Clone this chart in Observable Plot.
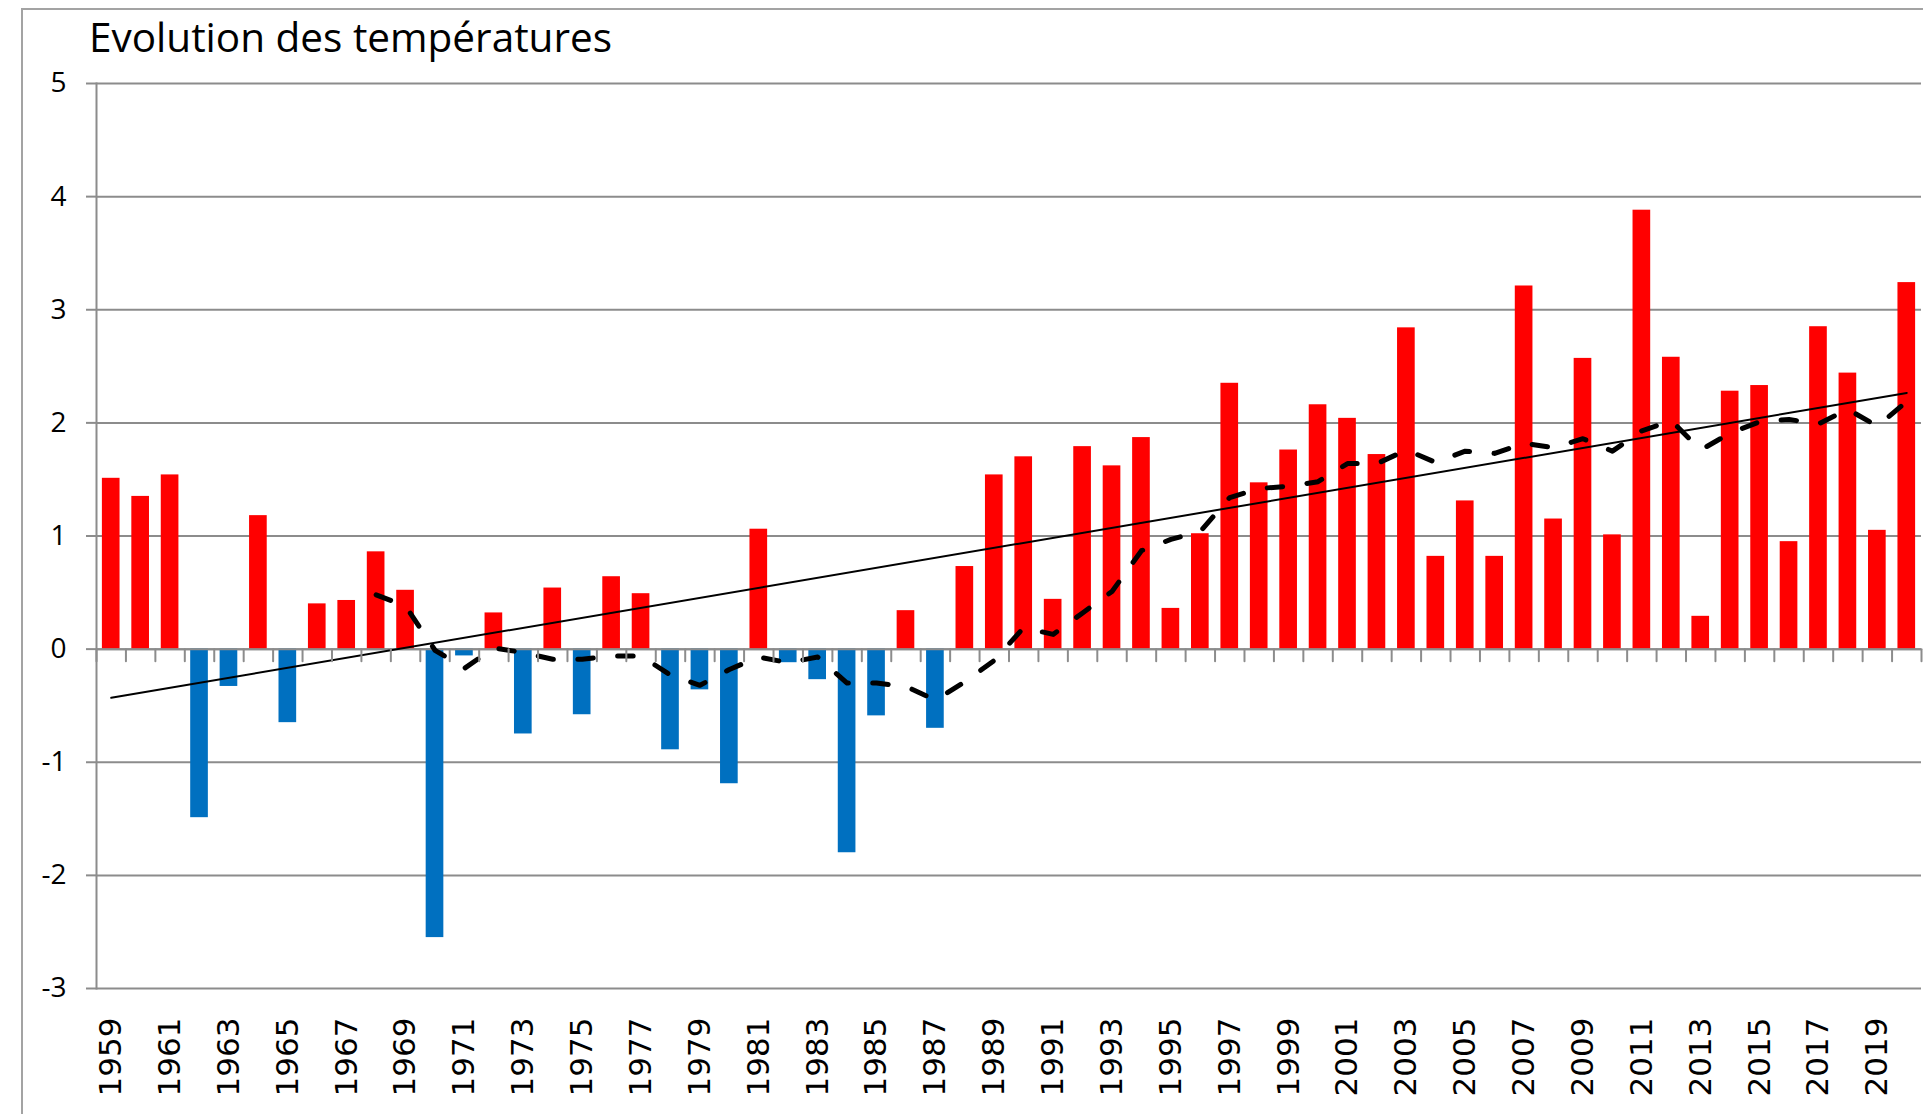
<!DOCTYPE html>
<html>
<head>
<meta charset="utf-8">
<script src="https://cdn.jsdelivr.net/npm/d3@7"></script>
<script src="https://cdn.jsdelivr.net/npm/@observablehq/plot@0.6"></script>
<style>
  html, body { margin: 0; padding: 0; background: #ffffff; }
  body { width: 1923px; height: 1114px; overflow: hidden; position: relative; }
  #frame { position: absolute; left: 21px; top: 8px; width: 3000px; height: 3000px;
           border-left: 2px solid #a3a3a3; border-top: 2px solid #a3a3a3; box-sizing: border-box; pointer-events: none; }
  #title { position: relative; height: 62px; box-sizing: border-box; padding-top: 17px; padding-left: 89px;
           font-family: "Open Sans", sans-serif; font-size: 40.5px; line-height: 1; color: #000; white-space: nowrap; }
  #chart svg { display: block; }
</style>
</head>
<body>
<div id="frame"></div>
<div id="title">Evolution des températures</div>
<div id="chart"></div>
<script>
// ---- data ----
const years = [1959,1960,1961,1962,1963,1964,1965,1966,1967,1968,1969,1970,1971,1972,1973,1974,1975,1976,1977,1978,
  1979,1980,1981,1982,1983,1984,1985,1986,1987,1988,1989,1990,1991,1992,1993,1994,1995,1996,1997,1998,
  1999,2000,2001,2002,2003,2004,2005,2006,2007,2008,2009,2010,2011,2012,2013,2014,2015,2016,2017,2018,2019,2020];
const anomalies = [1.51,1.35,1.54,-1.49,-0.33,1.18,-0.65,0.40,0.43,0.86,0.52,-2.55,-0.06,0.32,-0.75,0.54,-0.58,0.64,0.49,-0.89,
  -0.36,-1.19,1.06,-0.12,-0.27,-1.80,-0.59,0.34,-0.70,0.73,1.54,1.70,0.44,1.79,1.62,1.87,0.36,1.02,2.35,1.47,
  1.76,2.16,2.04,1.72,2.84,0.82,1.31,0.82,3.21,1.15,2.57,1.01,3.88,2.58,0.29,2.28,2.33,0.95,2.85,2.44,1.05,3.24];
// dashed line (10-year mean)
const maYears = [1968,1969,1970,1971,1972,1973,1974,1975,1976,1977,1978,1979,1980,1981,1982,1983,1984,1985,1986,1987,
  1988,1989,1990,1991,1992,1993,1994,1995,1996,1997,1998,1999,2000,2001,2002,2003,2004,2005,2006,2007,
  2008,2009,2010,2011,2012,2013,2014,2015,2016,2017,2018,2019,2020];
const maValues = [0.48,0.38,-0.01,-0.17,0.01,-0.03,-0.09,-0.09,-0.06,-0.06,-0.23,-0.32,-0.18,-0.07,-0.12,-0.07,-0.30,-0.30,-0.33,-0.45,
  -0.29,-0.10,0.19,0.13,0.32,0.51,0.87,0.97,1.04,1.34,1.42,1.44,1.48,1.64,1.64,1.76,1.65,1.75,1.73,1.82,
  1.78,1.86,1.75,1.93,2.02,1.76,1.91,2.01,2.03,1.99,2.12,1.97,2.19];
// straight trend line end points
const trendYears = [1959, 2020];
const trendValues = [-0.43, 2.265];
const yTicks = [-3,-2,-1,0,1,2,3,4,5];
const labelYears = [1959,1961,1963,1965,1967,1969,1971,1973,1975,1977,1979,1981,1983,1985,1987,1989,1991,1993,1995,1997,
  1999,2001,2003,2005,2007,2009,2011,2013,2015,2017,2019];

// ---- styles ----
const GRID = "#8c8c8c", RED = "#ff0000", BLUE = "#0070c0";

const data = years.map((year, i) => ({year, value: anomalies[i]}));
const ma = maYears.map((year, i) => ({year, value: maValues[i]}));
const trend = trendYears.map((year, i) => ({year, value: trendValues[i]}));

const tickShape = { draw(context, l) { context.moveTo(0, 0); context.lineTo(0, -l); } };

function build(step) {
  const marks = [
    Plot.ruleY(yTicks, {stroke: GRID, strokeWidth: 2}),
    Plot.barY(data, {x: "year", y: "value", fill: d => d.value >= 0 ? RED : BLUE}),
    Plot.ruleY([0], {stroke: GRID, strokeWidth: 2}),
    Plot.frame({anchor: "left", stroke: GRID, strokeWidth: 2}),
    Plot.axisY(yTicks, {tickSize: 10, tickPadding: 20, stroke: GRID, strokeWidth: 2,
      tickFormat: d => String(d), fontSize: 28, fontFamily: "Open Sans", label: null}),
    Plot.axisX(labelYears, {tickSize: 0, tickRotate: -90, tickPadding: 29, tickFormat: d => String(d),
      fontSize: 31, fontFamily: "DejaVu Sans", label: null}),
    Plot.lineY(trend, {x: "year", y: "value", stroke: "#000", strokeWidth: 2}),
    Plot.lineY(ma, {x: "year", y: "value", stroke: "#000", strokeWidth: 5,
      strokeDasharray: "15.5,24.5", strokeLinecap: "round", strokeLinejoin: "round"})
  ];
  if (step) {
    marks.push(Plot.vector(years, {x: d => d, y: 0, length: 12, rotate: 180, anchor: "start",
      shape: tickShape, stroke: GRID, strokeWidth: 2, dx: -step / 2}));
    marks.push(Plot.vector([years[years.length - 1]], {x: d => d, y: 0, length: 12, rotate: 180, anchor: "start",
      shape: tickShape, stroke: GRID, strokeWidth: 2, dx: step / 2}));
  }
  return Plot.plot({
    width: 1923,
    height: 1052,
    marginLeft: 96,
    marginRight: 2,
    marginTop: 21,
    marginBottom: 126,
    style: {fontFamily: "Open Sans", background: "transparent", color: "#000"},
    x: {type: "band", domain: years, paddingInner: 0.4, paddingOuter: 0.2, round: false, label: null},
    y: {domain: [-3, 5], label: null},
    marks
  });
}

const first = build(0);
const step = first.scale("x").step;
const chart = build(step);
document.getElementById("chart").appendChild(chart);
</script>
</body>
</html>
